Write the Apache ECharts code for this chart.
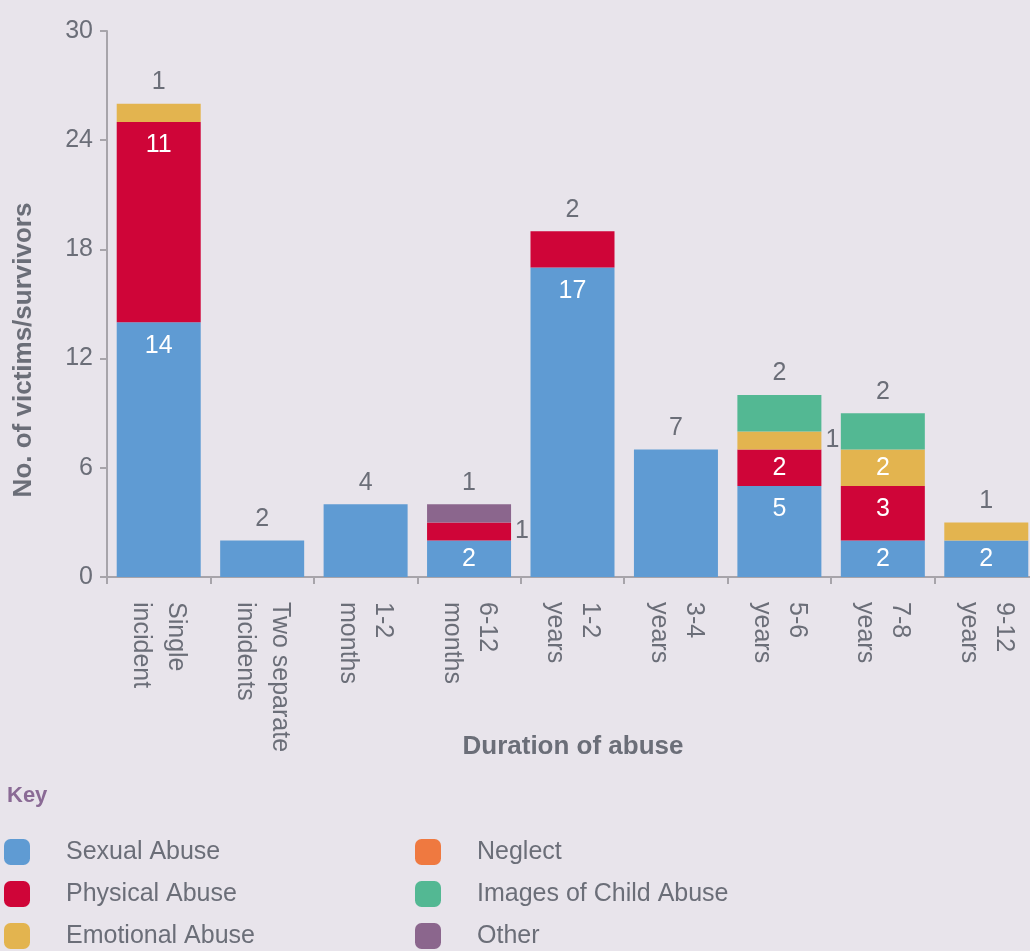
<!DOCTYPE html>
<html>
<head>
<meta charset="utf-8">
<script src="https://cdn.jsdelivr.net/npm/echarts@6/dist/echarts.min.js"></script>
<style>
html,body{margin:0;padding:0;background:#e8e4eb;}
#main{width:1030px;height:951px;}
</style>
</head>
<body>
<div id="main"></div>
<script>
const categories = ['Single\nincident','Two separate\nincidents','1-2\nmonths','6-12\nmonths','1-2\nyears','3-4\nyears','5-6\nyears','7-8\nyears','9-12\nyears'];
const sexualAbuse    = [14, 2, 4, 2, 17, 7, 5, 2, 2];
const physicalAbuse  = [11, 0, 0, 1, 2, 0, 2, 3, 0];
const emotionalAbuse = [1, 0, 0, 0, 0, 0, 1, 2, 1];
const neglect        = [0, 0, 0, 0, 0, 0, 0, 0, 0];
const imagesAbuse    = [0, 0, 0, 0, 0, 0, 2, 2, 0];
const other          = [0, 0, 0, 1, 0, 0, 0, 0, 0];
const yTicks = [0, 6, 12, 18, 24, 30];

const seriesDefs = [
  {name:'Sexual Abuse', data:sexualAbuse, color:'#5f9bd3'},
  {name:'Physical Abuse', data:physicalAbuse, color:'#cf0538'},
  {name:'Emotional Abuse', data:emotionalAbuse, color:'#e3b44f'},
  {name:'Neglect', data:neglect, color:'#ef7940'},
  {name:'Images of Child Abuse', data:imagesAbuse, color:'#53b893'},
  {name:'Other', data:other, color:'#8b668d'}
];

const FONT = '"Liberation Sans", Arial, sans-serif';
const GRAY = '#6b6e78';
const FS = 25;

const topIdx = categories.map((c, i) => {
  let t = -1;
  seriesDefs.forEach((s, si) => { if (s.data[i] > 0) t = si; });
  return t;
});

const series = seriesDefs.map((s, si) => ({
  name: s.name,
  type: 'bar',
  stack: 'total',
  barWidth: 84,
  itemStyle: {color: s.color},
  data: s.data.map((v, i) => {
    if (!v) return '-';
    let label;
    if (si === topIdx[i]) {
      label = {show:true, position:'top', distance:9, color:GRAY, fontSize:FS, fontFamily:FONT};
    } else if (v === 1) {
      label = {show:true, position:'right', distance:4, color:GRAY, fontSize:FS, fontFamily:FONT};
    } else if (v === 2) {
      label = {show:true, position:'inside', color:'#ffffff', fontSize:FS, fontFamily:FONT};
    } else {
      label = {show:true, position:'insideTop', distance:11, color:'#ffffff', fontSize:FS, fontFamily:FONT};
    }
    return {value: v, label};
  })
}));

const chart = echarts.init(document.getElementById('main'), null, {renderer:'canvas'});
chart.setOption({
  backgroundColor: '#e8e4eb',
  animation: false,
  textStyle: {fontFamily: FONT},
  grid: {left: 107, top: 31, width: 931, height: 546, containLabel: false, outerBoundsMode: 'none'},
  xAxis: {
    type: 'category',
    data: categories,
    axisLine: {lineStyle: {color: '#a7a4aa', width: 2}},
    axisTick: {show: true, length: 7, lineStyle: {color: '#a7a4aa', width: 2}},
    axisLabel: {rotate: -90, margin: 25, color: GRAY, fontSize: FS, lineHeight: 35, fontFamily: FONT, interval: 0}
  },
  yAxis: {
    type: 'value',
    min: yTicks[0],
    max: yTicks[yTicks.length - 1],
    interval: yTicks[1] - yTicks[0],
    axisLine: {show: true, lineStyle: {color: '#a7a4aa', width: 2}},
    axisTick: {show: true, length: 7, lineStyle: {color: '#a7a4aa', width: 2}},
    splitLine: {show: false},
    axisLabel: {margin: 14, color: GRAY, fontSize: FS, fontFamily: FONT}
  },
  legend: [
    {
      orient: 'vertical', left: 4, top: 839, height: 150, padding: 0, itemWidth: 26, itemHeight: 26, itemGap: 16,
      icon: 'roundRect', selectedMode: false,
      data: ['Sexual Abuse', 'Physical Abuse', 'Emotional Abuse'],
      textStyle: {color: GRAY, fontSize: FS, fontFamily: FONT, padding: [0, 0, 0, 31]}
    },
    {
      orient: 'vertical', left: 415, top: 839, height: 150, padding: 0, itemWidth: 26, itemHeight: 26, itemGap: 16,
      icon: 'roundRect', selectedMode: false,
      data: ['Neglect', 'Images of Child Abuse', 'Other'],
      textStyle: {color: GRAY, fontSize: FS, fontFamily: FONT, padding: [0, 0, 0, 31]}
    }
  ],
  graphic: [
    {type: 'text', left: 7, top: 785, style: {text: 'Key', fill: '#8a6a95', font: 'bold 22px ' + FONT}},
    {type: 'text', x: 573, y: 747, style: {text: 'Duration of abuse', fill: GRAY, font: 'bold 26px ' + FONT, align: 'center', verticalAlign: 'middle'}},
    {type: 'text', x: 24, y: 350, rotation: Math.PI / 2, style: {text: 'No. of victims/survivors', fill: GRAY, font: 'bold 26px ' + FONT, align: 'center', verticalAlign: 'middle'}}
  ],
  series: series
});
</script>
</body>
</html>
